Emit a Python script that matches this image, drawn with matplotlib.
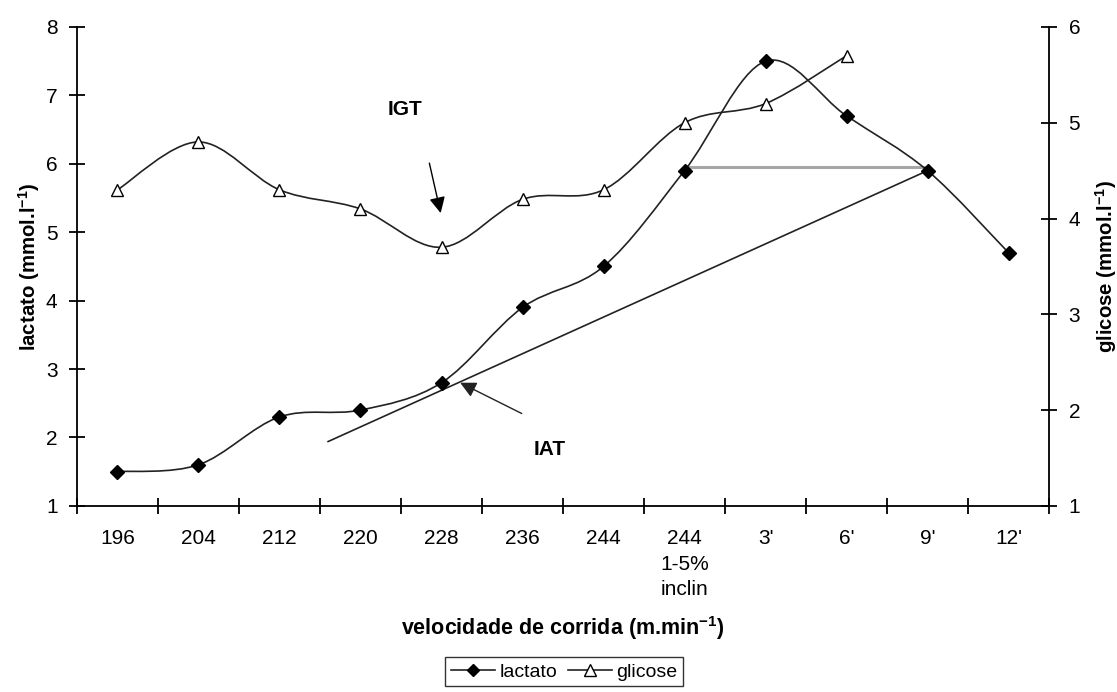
import matplotlib
matplotlib.use("Agg")
import matplotlib.pyplot as plt
from matplotlib.path import Path
from matplotlib.patches import PathPatch
from matplotlib.lines import Line2D
import numpy as np

plt.rcParams['font.family'] = ['Liberation Sans', 'DejaVu Sans']
plt.rcParams['mathtext.fontset'] = 'custom'
plt.rcParams['mathtext.rm'] = 'Liberation Sans'
plt.rcParams['mathtext.bf'] = 'Liberation Sans:bold'

categories = ["196", "204", "212", "220", "228", "236", "244", "244\n1-5%\ninclin",
              "3'", "6'", "9'", "12'"]
lactato = [1.5, 1.6, 2.3, 2.4, 2.8, 3.9, 4.5, 5.9, 7.5, 6.7, 5.9, 4.7]
glicose = [4.3, 4.8, 4.3, 4.1, 3.7, 4.2, 4.3, 5.0, 5.2, 5.7]
left_ticks = [1, 2, 3, 4, 5, 6, 7, 8]
right_ticks = [1, 2, 3, 4, 5, 6]
# threshold construction lines (x in category index, y in lactato units)
iat_line_x = [2.6, 10]
iat_line_y = [1.94, 5.9]
grey_line_x = [7, 10]
grey_line_y = [5.95, 5.95]

LINE_C = '#222222'


def smooth_path(xs, ys):
    xs = np.asarray(xs, float)
    ys = np.asarray(ys, float)
    n = len(xs)
    verts = [(xs[0], ys[0])]
    codes = [Path.MOVETO]
    for i in range(n - 1):
        x0, y0 = (xs[i - 1], ys[i - 1]) if i > 0 else (xs[i], ys[i])
        x1, y1 = xs[i], ys[i]
        x2, y2 = xs[i + 1], ys[i + 1]
        x3, y3 = (xs[i + 2], ys[i + 2]) if i + 2 < n else (x2, y2)
        c1 = (x1 + (x2 - x0) / 6.0, y1 + (y2 - y0) / 6.0)
        c2 = (x2 - (x3 - x1) / 6.0, y2 - (y3 - y1) / 6.0)
        verts += [c1, c2, (x2, y2)]
        codes += [Path.CURVE4] * 3
    return Path(verts, codes)


fig = plt.figure(figsize=(11.17, 6.92), dpi=100)
ax = fig.add_axes([0.0689, 0.269, 0.8703, 0.692])
ax2 = ax.twinx()

x_l = np.arange(len(lactato))
x_g = np.arange(len(glicose))

ax.add_patch(PathPatch(smooth_path(x_l, lactato), fill=False, edgecolor=LINE_C, lw=1.2, zorder=3))
ax.plot(x_l, lactato, linestyle='none', marker='D', ms=7, color='black', zorder=4)
ax2.add_patch(PathPatch(smooth_path(x_g, glicose), fill=False, edgecolor=LINE_C, lw=1.2, zorder=3))
ax2.plot(x_g, glicose, linestyle='none', marker='^', ms=9, mfc='white', mec='black', mew=1.0, zorder=4)

ax.plot(iat_line_x, iat_line_y, color=LINE_C, lw=1.2, zorder=2)
ax.plot(grey_line_x, grey_line_y, color='#a6a6a6', lw=2.2, zorder=2)

ax.set_xlim(-0.5, len(categories) - 0.5)
ax.set_ylim(1, 8)
ax2.set_ylim(1, 6)

ax.set_xticks(np.arange(-0.5, len(categories), 1.0))
ax.set_xticklabels([])
ax.set_xticks(np.arange(len(categories)), minor=True)
ax.set_xticklabels(categories, minor=True, fontsize=15, linespacing=1.42, va='top')
ax.tick_params(axis='x', which='major', direction='inout', length=12, width=1.3)
ax.tick_params(axis='x', which='minor', length=0, pad=17)

ax.set_yticks(left_ticks)
ax.set_yticklabels([str(t) for t in left_ticks], fontsize=15)
ax.tick_params(axis='y', direction='inout', length=12, width=1.3, pad=8)
ax2.set_yticks(right_ticks)
ax2.set_yticklabels([str(t) for t in right_ticks], fontsize=15)
ax2.tick_params(axis='y', direction='inout', length=12, width=1.3, pad=8)

for a in (ax, ax2):
    a.spines['top'].set_visible(False)
    for s in ('left', 'right', 'bottom'):
        a.spines[s].set_linewidth(1.3)
ax.spines['right'].set_visible(False)
ax2.spines['left'].set_visible(False)
ax2.spines['bottom'].set_visible(False)

ax.set_ylabel(r'lactato (mmol.l$^{\mathbf{-1}}$)', fontsize=14.7, fontweight='bold', labelpad=3)
ax2.set_ylabel(r'glicose (mmol.l$^{\mathbf{-1}}$)', fontsize=14.7, fontweight='bold', labelpad=9,
               rotation=90)
ax.set_xlabel(r'velocidade de corrida (m.min$^{\mathbf{-1}}$)', fontsize=15.5, fontweight='bold',
              labelpad=11)

ax.text(3.55, 6.79, 'IGT', fontsize=15, fontweight='bold', ha='center', va='center')
ax.text(5.33, 1.82, 'IAT', fontsize=15, fontweight='bold', ha='center', va='center')
ax.annotate('', xy=(3.99, 5.28), xytext=(3.85, 6.01),
            arrowprops=dict(arrowstyle='-|>', color='black', lw=1.0, mutation_scale=24, shrinkA=0, shrinkB=0))
ax.annotate('', xy=(4.23, 2.80), xytext=(4.99, 2.35),
            arrowprops=dict(arrowstyle='-|>', color=LINE_C, lw=1.0, mutation_scale=24, shrinkA=0, shrinkB=0))

handles = [Line2D([], [], color=LINE_C, lw=1.2, marker='D', ms=6, mfc='black', mec='black'),
           Line2D([], [], color=LINE_C, lw=1.2, marker='^', ms=8, mfc='white', mec='black')]
leg = fig.legend(handles, ['lactato', 'glicose'], loc='lower center', bbox_to_anchor=(0.505, -0.006),
                 ncol=2, fontsize=14, frameon=True, fancybox=False, edgecolor='black',
                 handlelength=2.3, handletextpad=0.2, columnspacing=0.55, borderpad=0.3)
leg.get_frame().set_linewidth(1.0)

fig.savefig('out.png', dpi=100)
